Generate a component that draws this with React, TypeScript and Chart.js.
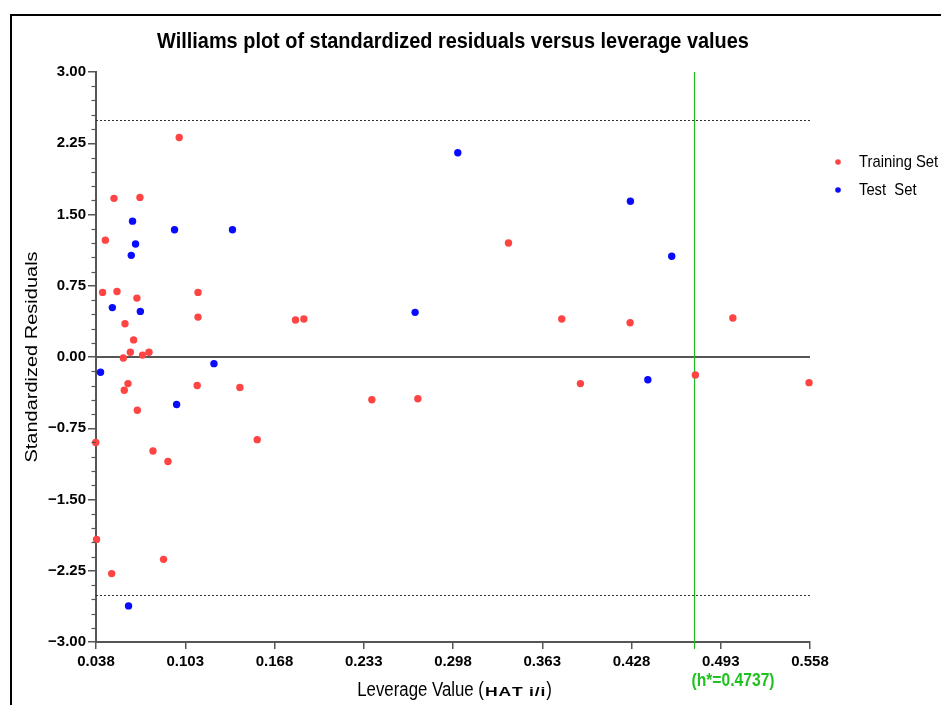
import React, { useEffect, useRef } from "react";
import { Chart, registerables } from "chart.js";

Chart.register(...registerables);

// Leverage (hat diagonal) and standardized residual for each compound
const trainLeverage = [
  0.0986, 0.0511, 0.07, 0.0448, 0.0428, 0.0533, 0.0678, 0.1123, 0.0591, 0.1123,
  0.0654, 0.063, 0.0719, 0.0766, 0.0579, 0.0613, 0.0586, 0.0681, 0.1117, 0.1428,
  0.0795, 0.0904, 0.0378, 0.1554, 0.0384, 0.0872, 0.0494, 0.1833, 0.1894, 0.2389,
  0.2724, 0.3384, 0.3772, 0.427, 0.3908, 0.4745, 0.5018, 0.5573,
];
const trainResidual = [
  2.31, 1.67, 1.68, 1.23, 0.68, 0.69, 0.62, 0.68, 0.35, 0.42,
  0.18, 0.05, 0.02, 0.05, -0.01, -0.28, -0.35, -0.56, -0.3, -0.32,
  -0.99, -1.1, -0.9, -0.87, -1.92, -2.13, -2.28, 0.39, 0.4, -0.45,
  -0.44, 1.2, 0.4, 0.36, -0.28, -0.19, 0.41, -0.27,
];
const testLeverage = [
  0.3015, 0.4272, 0.4573, 0.2704, 0.0646, 0.0952, 0.1374, 0.0668,
  0.0637, 0.0499, 0.0703, 0.0413, 0.1239, 0.0967, 0.4399, 0.0617,
];
const testResidual = [
  2.15, 1.64, 1.06, 0.47, 1.43, 1.34, 1.34, 1.19,
  1.07, 0.52, 0.48, -0.16, -0.07, -0.5, -0.24, -2.62,
];

const xTickValues = [0.038, 0.103, 0.168, 0.233, 0.298, 0.363, 0.428, 0.493, 0.558];
const yTickValues = [-3, -2.25, -1.5, -0.75, 0, 0.75, 1.5, 2.25, 3];
const yMinorStep = 0.15;
const residualLimits = [2.5, -2.5];
const hStar = 0.4737;

const seriesNames = ["Training Set", "Test  Set"];
const seriesColors = ["#ff4444", "#0a0aff"];

const FONT = "'Liberation Sans', Arial, Helvetica, sans-serif";

function squeezedText(
  ctx: CanvasRenderingContext2D,
  text: string,
  x: number,
  y: number,
  font: string,
  color: string,
  sx: number,
  align: CanvasTextAlign = "center",
  baseline: CanvasTextBaseline = "middle"
) {
  ctx.save();
  ctx.font = font;
  ctx.fillStyle = color;
  ctx.textAlign = align;
  ctx.textBaseline = baseline;
  ctx.translate(x, y);
  ctx.scale(sx, 1);
  ctx.fillText(text, 0, 0);
  ctx.restore();
}

// widened text, drawn glyph by glyph; returns the advance
function spacedText(
  ctx: CanvasRenderingContext2D,
  text: string,
  x: number,
  y: number,
  font: string,
  sx: number,
  spacing: number,
  draw: boolean
) {
  ctx.save();
  ctx.font = font;
  ctx.fillStyle = "#000";
  ctx.textAlign = "left";
  ctx.textBaseline = "alphabetic";
  let px = x;
  for (const ch of text) {
    if (draw) {
      ctx.save();
      ctx.translate(px, y);
      ctx.scale(sx, 1);
      ctx.fillText(ch, 0, 0);
      ctx.restore();
    }
    px += ctx.measureText(ch).width * sx + spacing;
  }
  ctx.restore();
  return px - x;
}

const decorPlugin = {
  id: "williamsDecor",
  beforeDatasetsDraw(chart: any) {
    const { ctx, chartArea: a, scales } = chart;
    const x = scales.x;
    const y = scales.y;
    ctx.save();
    // warning limits for residuals
    ctx.strokeStyle = "#333";
    ctx.lineWidth = 1;
    ctx.setLineDash([2, 2]);
    for (const lim of residualLimits) {
      const py = Math.round(y.getPixelForValue(lim)) + 0.5;
      ctx.beginPath();
      ctx.moveTo(a.left, py);
      ctx.lineTo(a.right + 2, py);
      ctx.stroke();
    }
    // zero residual line
    ctx.setLineDash([]);
    ctx.strokeStyle = "#555";
    ctx.lineWidth = 2;
    const y0 = y.getPixelForValue(0);
    ctx.beginPath();
    ctx.moveTo(a.left, y0);
    ctx.lineTo(a.right, y0);
    ctx.stroke();
    // critical leverage h*
    const hx = Math.round(x.getPixelForValue(hStar)) + 0.5;
    ctx.strokeStyle = "#22bb22";
    ctx.lineWidth = 1.2;
    ctx.beginPath();
    ctx.moveTo(hx, a.top);
    ctx.lineTo(hx, a.bottom + 7);
    ctx.stroke();
    ctx.restore();
  },
  afterDraw(chart: any) {
    const { ctx, chartArea: a, scales } = chart;
    const y = scales.y;
    ctx.save();

    // outer frame
    ctx.strokeStyle = "#000";
    ctx.lineWidth = 2;
    ctx.strokeRect(11, 15, 1000, 1000);

    // minor ticks on the residual axis
    ctx.strokeStyle = "#555";
    ctx.lineWidth = 1.2;
    const nMinor = Math.round((y.max - y.min) / yMinorStep);
    for (let i = 0; i <= nMinor; i++) {
      if (i % 5 === 0) continue;
      const py = Math.round(y.getPixelForValue(y.min + i * yMinorStep)) + 0.5;
      ctx.beginPath();
      ctx.moveTo(a.left - 4.5, py);
      ctx.lineTo(a.left, py);
      ctx.stroke();
    }

    const cx = (a.left + a.right) / 2;

    // title
    squeezedText(
      ctx,
      "Williams plot of standardized residuals versus leverage values",
      cx,
      42,
      `bold 22px ${FONT}`,
      "#000",
      0.905
    );

    // y axis title
    ctx.save();
    ctx.translate(32, (a.top + a.bottom) / 2);
    ctx.rotate(-Math.PI / 2);
    ctx.scale(1, 0.87);
    ctx.font = `20px ${FONT}`;
    ctx.fillStyle = "#000";
    ctx.textAlign = "center";
    ctx.textBaseline = "middle";
    ctx.fillText("Standardized Residuals", 0, 0);
    ctx.restore();

    // x axis title with the smaller bold HAT part
    const base = 696;
    const mainFont = `20px ${FONT}`;
    const hatFont = `bold 13px ${FONT}`;
    const mainSx = 0.84;
    const hatSx = 1.35;
    const hatGap = 0.8;
    ctx.font = mainFont;
    const w1 = ctx.measureText("Leverage Value (").width * mainSx;
    const w2 = spacedText(ctx, "HAT i/i", 0, 0, hatFont, hatSx, hatGap, false);
    const w3 = ctx.measureText(")").width * mainSx;
    let px = cx + 1 - (w1 + w2 + w3) / 2;
    squeezedText(ctx, "Leverage Value (", px, base, mainFont, "#000", mainSx, "left", "alphabetic");
    px += w1 + 1;
    px += spacedText(ctx, "HAT i/i", px, base, hatFont, hatSx, hatGap, true);
    squeezedText(ctx, ")", px, base, mainFont, "#000", mainSx, "left", "alphabetic");

    // h* label
    squeezedText(ctx, `(h*=${hStar})`, 733, 681, `bold 18px ${FONT}`, "#1fc21f", 0.87);

    // legend
    seriesNames.forEach((name, i) => {
      const ly = 162 + i * 28;
      ctx.beginPath();
      ctx.fillStyle = seriesColors[i];
      ctx.arc(838, ly, 2.8, 0, Math.PI * 2);
      ctx.fill();
      squeezedText(ctx, name, 859, ly, `17px ${FONT}`, "#000", 0.87, "left");
    });

    ctx.restore();
  },
};

export default function App() {
  const canvasRef = useRef<HTMLCanvasElement>(null);

  useEffect(() => {
    const canvas = canvasRef.current;
    if (!canvas) return;
    const tickFont = { family: FONT, size: 15, weight: "bold" as const };
    const chart = new Chart(canvas, {
      type: "scatter",
      data: {
        datasets: [
          {
            label: seriesNames[0],
            data: trainLeverage.map((v, i) => ({ x: v, y: trainResidual[i] })),
            backgroundColor: seriesColors[0],
            borderWidth: 0,
            pointRadius: 3.7,
            clip: false,
          },
          {
            label: seriesNames[1],
            data: testLeverage.map((v, i) => ({ x: v, y: testResidual[i] })),
            backgroundColor: seriesColors[1],
            borderWidth: 0,
            pointRadius: 3.7,
            clip: false,
          },
        ],
      },
      options: {
        responsive: false,
        animation: false,
        events: [],
        layout: { padding: { left: 0, top: 72, right: 131, bottom: 0 } },
        plugins: {
          legend: { display: false },
          title: { display: false },
          tooltip: { enabled: false },
        },
        scales: {
          x: {
            type: "linear",
            min: xTickValues[0],
            max: xTickValues[xTickValues.length - 1],
            afterBuildTicks: (scale: any) => {
              scale.ticks = xTickValues.map((v) => ({ value: v }));
            },
            afterFit: (scale: any) => {
              scale.height = 63;
            },
            ticks: {
              color: "#000",
              font: tickFont,
              padding: 4,
              autoSkip: false,
              maxRotation: 0,
              callback: (v: any) => Number(v).toFixed(3),
            },
            grid: {
              drawOnChartArea: false,
              drawTicks: true,
              tickLength: 7,
              color: "#555",
              lineWidth: 1.5,
            },
            border: { display: true, color: "#555", width: 2 },
          },
          y: {
            type: "linear",
            min: yTickValues[0],
            max: yTickValues[yTickValues.length - 1],
            afterBuildTicks: (scale: any) => {
              scale.ticks = yTickValues.map((v) => ({ value: v }));
            },
            afterFit: (scale: any) => {
              scale.width = 96;
            },
            ticks: {
              color: "#000",
              font: tickFont,
              padding: 2,
              autoSkip: false,
              callback: (v: any) => Number(v).toFixed(2).replace("-", "\u2212"),
            },
            grid: {
              drawOnChartArea: false,
              drawTicks: true,
              tickLength: 8,
              color: "#555",
              lineWidth: 1.5,
            },
            border: { display: true, color: "#555", width: 2 },
          },
        },
      },
      plugins: [decorPlugin],
    });
    return () => chart.destroy();
  }, []);

  return (
    <div
      style={{
        position: "fixed",
        left: 0,
        top: 0,
        width: 941,
        height: 705,
        background: "#fff",
        overflow: "hidden",
      }}
    >
      <canvas ref={canvasRef} width={941} height={705} style={{ display: "block" }} />
    </div>
  );
}
